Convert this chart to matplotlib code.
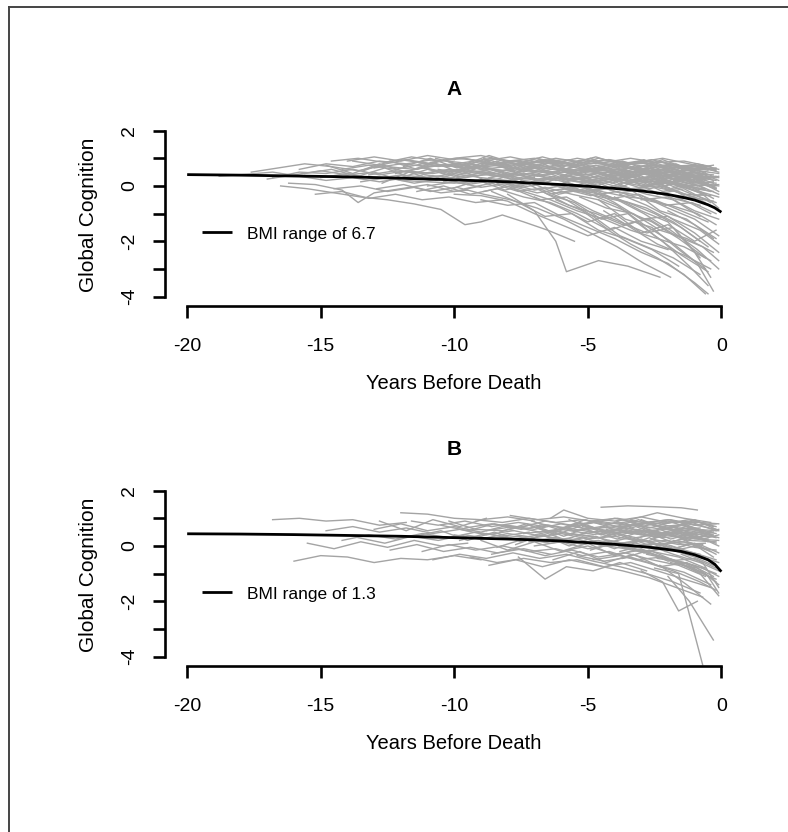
import matplotlib
matplotlib.use("Agg")
import matplotlib.pyplot as plt
from matplotlib.lines import Line2D

plt.rcParams["font.family"] = ["Liberation Sans", "DejaVu Sans"]

# ---- data ---------------------------------------------------------------
CURVE_X = [-20, -18, -16, -14, -12, -10, -8, -7, -6, -5, -4, -3, -2.5, -2,
           -1.5, -1, -0.5, -0.25, 0]
A_CURVE_Y = [0.41, 0.39, 0.36, 0.33, 0.28, 0.22, 0.15, 0.10, 0.05, -0.01,
             -0.09, -0.18, -0.24, -0.31, -0.40, -0.51, -0.68, -0.79, -0.95]
B_CURVE_Y = [0.44, 0.43, 0.41, 0.38, 0.35, 0.30, 0.25, 0.22, 0.18, 0.12,
             0.06, -0.02, -0.07, -0.13, -0.20, -0.32, -0.50, -0.66, -0.93]

A_LABEL = "BMI range of 6.7"
B_LABEL = "BMI range of 1.3"

# individual trajectories, (years before death, global cognition)
A_SUBJECTS = [
    [(-15.8, 0.6), (-14.8, 0.8), (-13.8, 0.7), (-12.8, 0.9), (-11.8, 0.8), (-10.8, 0.95), (-9.8, 0.85), (-8.8, 0.7), (-7.8, 0.8), (-6.8, 0.6)],
    [(-14.6, 0.9), (-13.6, 1.0), (-12.6, 0.85), (-11.6, 1.05), (-10.6, 0.9), (-9.6, 1.0), (-8.6, 0.8), (-7.6, 0.9), (-6.6, 0.7), (-5.6, 0.75), (-4.6, 0.5)],
    [(-13.2, 0.4), (-12.2, 0.55), (-11.2, 0.45), (-10.2, 0.6), (-9.2, 0.5), (-8.2, 0.35), (-7.2, 0.45), (-6.2, 0.2), (-5.2, 0.3), (-4.2, 0.05), (-3.2, -0.2)],
    [(-12.5, 0.7), (-11.5, 0.6), (-10.5, 0.75), (-9.5, 0.65), (-8.5, 0.8), (-7.5, 0.6), (-6.5, 0.7), (-5.5, 0.55), (-4.5, 0.6), (-3.5, 0.4), (-2.5, 0.45), (-1.5, 0.2), (-0.5, 0.1)],
    [(-11.8, 0.2), (-10.8, 0.35), (-9.8, 0.1), (-8.8, 0.25), (-7.8, 0.0), (-6.8, 0.15), (-5.8, -0.1), (-4.8, -0.25), (-3.8, -0.5), (-2.8, -0.8), (-1.8, -1.3), (-0.8, -2.0)],
    [(-10.9, 0.85), (-9.9, 1.0), (-8.9, 0.9), (-7.9, 1.05), (-6.9, 0.85), (-5.9, 0.95), (-4.9, 0.8), (-3.9, 0.9), (-2.9, 0.7), (-1.9, 0.75), (-0.9, 0.55)],
    [(-10.2, 0.5), (-9.2, 0.65), (-8.2, 0.4), (-7.2, 0.55), (-6.2, 0.45), (-5.2, 0.6), (-4.2, 0.35), (-3.2, 0.5), (-2.2, 0.3), (-1.2, 0.2), (-0.2, -0.1)],
    [(-9.6, -0.1), (-8.6, 0.1), (-7.6, -0.2), (-6.6, -0.05), (-5.6, -0.3), (-4.6, -0.5), (-3.6, -0.9), (-2.6, -1.3), (-1.6, -1.9), (-0.6, -2.6)],
    [(-9.1, 0.7), (-8.1, 0.85), (-7.1, 0.75), (-6.1, 0.9), (-5.1, 0.7), (-4.1, 0.8), (-3.1, 0.55), (-2.1, 0.6), (-1.1, 0.4), (-0.1, 0.3)],
    [(-8.7, 0.3), (-7.7, 0.45), (-6.7, 0.2), (-5.7, 0.35), (-4.7, 0.1), (-3.7, 0.25), (-2.7, 0.0), (-1.7, -0.2), (-0.7, -0.5)],
    [(-8.2, 0.95), (-7.2, 0.8), (-6.2, 1.0), (-5.2, 0.85), (-4.2, 0.95), (-3.2, 0.8), (-2.2, 0.85), (-1.2, 0.65), (-0.2, 0.6)],
    [(-7.8, 0.0), (-6.8, 0.2), (-5.8, -0.1), (-4.8, 0.05), (-3.8, -0.25), (-2.8, -0.1), (-1.8, -0.45), (-0.8, -0.7)],
    [(-7.4, 0.6), (-6.4, 0.5), (-5.4, 0.7), (-4.4, 0.55), (-3.4, 0.65), (-2.4, 0.45), (-1.4, 0.5), (-0.4, 0.25)],
    [(-6.9, 0.35), (-5.9, 0.5), (-4.9, 0.3), (-3.9, 0.45), (-2.9, 0.2), (-1.9, 0.3), (-0.9, 0.0)],
    [(-6.5, -0.3), (-5.5, -0.15), (-4.5, -0.4), (-3.5, -0.6), (-2.5, -1.0), (-1.5, -1.5), (-0.5, -2.2)],
    [(-6.1, 0.8), (-5.1, 0.95), (-4.1, 0.75), (-3.1, 0.9), (-2.1, 0.7), (-1.1, 0.75), (-0.1, 0.5)],
    [(-5.6, 0.2), (-4.6, 0.35), (-3.6, 0.1), (-2.6, 0.25), (-1.6, 0.0), (-0.6, -0.3)],
    [(-5.2, 0.55), (-4.2, 0.7), (-3.2, 0.5), (-2.2, 0.6), (-1.2, 0.35), (-0.2, 0.2)],
    [(-4.8, -0.2), (-3.8, 0.0), (-2.8, -0.3), (-1.8, -0.5), (-0.8, -1.1)],
    [(-4.3, 0.4), (-3.3, 0.6), (-2.3, 0.35), (-1.3, 0.45), (-0.3, 0.1)],
    [(-3.9, 0.75), (-2.9, 0.6), (-1.9, 0.8), (-0.9, 0.55), (-0.1, 0.45)],
    [(-3.4, 0.1), (-2.4, 0.3), (-1.4, 0.05), (-0.4, -0.2)],
    [(-2.9, 0.5), (-1.9, 0.35), (-0.9, 0.5), (-0.1, 0.2)],
    [(-2.4, -0.3), (-1.4, -0.1), (-0.4, -0.6)],
    [(-16.8, 0.3), (-15.8, 0.5), (-14.8, 0.45), (-13.8, 0.6), (-12.8, 0.4), (-11.8, 0.55), (-10.8, 0.45), (-9.8, 0.6), (-8.8, 0.5), (-7.8, 0.35)],
    [(-17.6, 0.5), (-16.6, 0.65), (-15.6, 0.8), (-14.6, 0.7), (-13.6, 0.55), (-12.6, 0.75)],
    [(-18.8, 0.35), (-17.8, 0.42), (-16.8, 0.5), (-15.8, 0.35), (-14.8, 0.2), (-13.8, 0.3), (-12.8, 0.15), (-11.8, 0.3)],
    [(-16.2, 0.1), (-15.2, 0.05), (-14.2, -0.15), (-13.6, -0.6), (-13.0, -0.25), (-12.0, -0.1), (-11.0, 0.05), (-10.0, -0.2), (-9.0, 0.0)],
    [(-16.5, 0.0), (-15.5, -0.1), (-14.5, -0.25), (-13.5, -0.4), (-12.5, -0.5), (-11.5, -0.65), (-10.5, -0.85), (-9.6, -1.4), (-9.0, -1.3), (-8.2, -1.05), (-7.4, -1.3), (-6.5, -1.6), (-5.5, -2.0)],
    [(-15.2, -0.3), (-14.2, -0.2), (-13.2, -0.45), (-12.2, -0.3), (-11.2, -0.5), (-10.2, -0.4), (-9.2, -0.6), (-8.2, -0.5)],
    [(-14.0, 0.9), (-13.0, 1.05), (-12.0, 0.9), (-11.0, 1.1), (-10.0, 0.95)],
    [(-13.5, 0.15), (-12.5, 0.3), (-11.5, 0.1), (-10.5, 0.25), (-9.5, 0.05), (-8.5, 0.2), (-7.5, -0.05), (-6.5, 0.1), (-5.5, -0.2), (-4.5, -0.1)],
    [(-12.0, 0.95), (-11.0, 0.8), (-10.0, 1.0), (-9.0, 1.1), (-8.0, 0.9), (-7.0, 1.0), (-6.0, 0.85)],
    [(-11.4, -0.2), (-10.4, 0.0), (-9.4, -0.3), (-8.4, -0.1), (-7.4, -0.4), (-6.4, -0.6), (-5.4, -1.0), (-4.4, -1.5), (-3.4, -2.1), (-2.4, -2.6), (-1.4, -3.2), (-0.6, -3.9)],
    [(-10.6, 0.6), (-9.6, 0.45), (-8.6, 0.6), (-7.6, 0.4), (-6.6, 0.55), (-5.6, 0.35), (-4.6, 0.45), (-3.6, 0.2), (-2.6, 0.3), (-1.6, 0.0), (-0.6, -0.1)],
    [(-9.9, 0.3), (-8.9, 0.5), (-7.9, 0.25), (-6.9, 0.4), (-5.9, 0.15), (-4.9, -0.1), (-3.9, -0.5), (-2.9, -1.0), (-1.9, -1.6), (-0.9, -2.3), (-0.1, -3.0)],
    [(-8.0, -0.3), (-7.0, -0.9), (-6.2, -2.0), (-5.8, -3.1), (-4.6, -2.7), (-3.5, -2.9), (-2.3, -3.3)],
    [(-8.4, 0.1), (-7.4, -0.2), (-6.4, -0.5), (-5.4, -0.9), (-4.4, -1.2), (-3.4, -1.6), (-2.4, -1.9), (-1.4, -2.2), (-0.4, -2.7)],
    [(-6.8, -0.1), (-5.8, -0.5), (-4.8, -1.1), (-3.8, -1.8), (-2.8, -2.2), (-1.8, -2.6), (-0.8, -3.2)],
    [(-5.9, 0.1), (-4.9, -0.3), (-3.9, -0.7), (-2.9, -1.4), (-1.9, -2.0), (-0.9, -2.8), (-0.3, -3.8)],
    [(-5.3, -0.4), (-4.3, -0.8), (-3.3, -1.0), (-2.3, -1.6), (-1.3, -1.9), (-0.3, -2.4)],
    [(-4.6, -0.5), (-3.6, -1.2), (-2.6, -1.5), (-1.6, -2.3), (-0.6, -3.0)],
    [(-3.8, -0.3), (-2.8, -0.7), (-1.8, -1.2), (-0.8, -1.6), (-0.1, -2.1)],
    [(-7.0, -0.4), (-6.0, -0.8), (-5.0, -1.3), (-4.0, -1.0), (-3.0, -1.7), (-2.0, -1.4), (-1.0, -2.0), (-0.2, -1.6)],
    [(-9.0, -0.5), (-8.0, -0.7), (-7.0, -0.6), (-6.0, -1.1), (-5.0, -1.5), (-4.0, -1.9), (-3.0, -2.4), (-2.0, -2.8), (-1.0, -3.5), (-0.5, -3.9)],
    [(-14.5, -0.1), (-13.5, 0.0), (-12.5, -0.2), (-11.5, -0.05), (-10.5, -0.25), (-9.5, -0.15)],
    [(-10.0, -0.3), (-9.0, -0.35), (-8.0, -0.55), (-7.0, -1.0), (-6.0, -1.4), (-5.0, -1.8), (-4.0, -1.5), (-3.0, -2.0), (-2.0, -2.3)],
    [(-2.0, -0.9), (-1.0, -1.4), (-0.2, -1.9)],
    [(-3.0, -0.5), (-2.0, -0.4), (-1.0, -0.9), (-0.1, -1.2)],
    [(-1.8, 0.2), (-0.8, 0.0), (-0.1, -0.3)],
    [(-12.2, 0.45), (-11.2, 0.65), (-10.2, 0.5), (-9.2, 0.75), (-8.2, 0.55), (-7.2, 0.7), (-6.2, 0.6), (-5.2, 0.4), (-4.2, 0.5), (-3.2, 0.3)],
    [(-11.0, 0.0), (-10.0, 0.15), (-9.0, -0.05), (-8.0, 0.1), (-7.0, -0.15), (-6.0, 0.0), (-5.0, -0.2), (-4.0, -0.05)],
    [(-9.4, 0.95), (-8.4, 0.75), (-7.4, 0.95), (-6.4, 0.8), (-5.4, 1.0), (-4.4, 0.85), (-3.4, 1.0), (-2.4, 0.85), (-1.4, 0.9), (-0.4, 0.7)],
    [(-8.0, 0.55), (-7.0, 0.35), (-6.0, 0.55), (-5.0, 0.4), (-4.0, 0.55), (-3.0, 0.3), (-2.0, 0.4), (-1.0, 0.1), (-0.3, 0.15)],
    [(-7.1, 0.15), (-6.1, 0.3), (-5.1, 0.1), (-4.1, 0.25), (-3.1, -0.05), (-2.1, 0.1), (-1.1, -0.3), (-0.2, -0.6)],
    [(-6.3, 0.65), (-5.3, 0.45), (-4.3, 0.65), (-3.3, 0.5), (-2.3, 0.7), (-1.3, 0.5), (-0.3, 0.4)],
    [(-5.0, 0.9), (-4.0, 0.7), (-3.0, 0.85), (-2.0, 0.65), (-1.0, 0.7), (-0.2, 0.55)],
    [(-4.0, 0.2), (-3.0, 0.0), (-2.0, 0.15), (-1.0, -0.15), (-0.1, -0.4)],
    [(-13.0, 0.65), (-12.0, 0.8), (-11.0, 0.7), (-10.0, 0.8), (-9.0, 0.6), (-8.0, 0.7), (-7.0, 0.5), (-6.0, 0.65), (-5.0, 0.5), (-4.0, 0.6), (-3.0, 0.45), (-2.0, 0.5), (-1.0, 0.3), (-0.2, 0.35)],
    [(-15.0, 0.3), (-14.0, 0.45), (-13.0, 0.25), (-12.0, 0.4), (-11.0, 0.3), (-10.0, 0.45), (-9.0, 0.3), (-8.0, 0.2), (-7.0, 0.3)],
    [(-11.6, 0.9), (-10.6, 0.7), (-9.6, 0.85), (-8.6, 1.0), (-7.6, 0.75), (-6.6, 0.9), (-5.6, 0.7), (-4.6, 0.85), (-3.6, 0.65), (-2.6, 0.75), (-1.6, 0.55), (-0.6, 0.6)],
    [(-10.4, 0.15), (-9.4, 0.35), (-8.4, 0.45), (-7.4, 0.2), (-6.4, 0.3), (-5.4, 0.15), (-4.4, 0.2), (-3.4, -0.1), (-2.4, 0.0), (-1.4, -0.3), (-0.4, -0.35)],
    [(-8.9, -0.2), (-7.9, 0.0), (-6.9, -0.25), (-5.9, -0.1), (-4.9, -0.35), (-3.9, -0.2), (-2.9, -0.5), (-1.9, -0.7), (-0.9, -1.0), (-0.2, -1.4)],
    [(-7.6, 0.75), (-6.6, 0.95), (-5.6, 0.75), (-4.6, 1.0), (-3.6, 0.8), (-2.6, 0.95), (-1.6, 0.7), (-0.6, 0.5)],
    [(-6.0, 0.4), (-5.0, 0.2), (-4.0, 0.4), (-3.0, 0.15), (-2.0, 0.2), (-1.0, -0.1), (-0.3, -0.2)],
    [(-4.5, 0.6), (-3.5, 0.3), (-2.5, 0.55), (-1.5, 0.3), (-0.5, 0.3)],
    [(-3.2, 0.85), (-2.2, 1.0), (-1.2, 0.8), (-0.3, 0.6)],
    [(-2.6, 0.6), (-1.6, 0.45), (-0.6, 0.2)],
    [(-14.2, 0.6), (-13.2, 0.75), (-12.2, 0.6), (-11.2, 0.8), (-10.2, 0.7), (-9.2, 0.85), (-8.2, 0.7), (-7.2, 0.85)],
    [(-12.9, -0.1), (-11.9, 0.05), (-10.9, -0.2), (-9.9, -0.05), (-8.9, -0.3), (-7.9, -0.5), (-6.9, -0.8), (-5.9, -1.2), (-4.9, -1.7), (-3.9, -2.2), (-2.9, -2.8), (-1.9, -3.3)],
    [(-6.7, -0.2), (-5.7, -0.7), (-4.7, -1.0), (-3.7, -1.4), (-2.7, -1.2), (-1.7, -1.8), (-0.7, -2.2), (-0.1, -2.7)],
    [(-5.5, 0.0), (-4.5, -0.2), (-3.5, -0.4), (-2.5, -0.5), (-1.5, -0.9), (-0.5, -1.3)],
    [(-4.0, -0.4), (-3.0, -0.9), (-2.0, -1.3), (-1.0, -2.4), (-0.4, -3.3)],
    [(-9.8, 0.8), (-8.8, 0.6), (-7.8, 0.55), (-6.8, 0.75), (-5.8, 0.55), (-4.8, 0.7), (-3.8, 0.45), (-2.8, 0.6), (-1.8, 0.35), (-0.8, 0.35)],
    [(-11.1, 0.4), (-10.1, 0.3), (-9.1, 0.45), (-8.1, 0.3), (-7.1, 0.45), (-6.1, 0.3), (-5.1, 0.2), (-4.1, 0.3), (-3.1, 0.1), (-2.1, 0.2), (-1.1, 0.0), (-0.1, 0.05)],
    [(-13.8, 0.9), (-12.8, 0.75), (-11.8, 0.95), (-10.8, 0.8), (-9.8, 0.7)],
    [(-17.0, 0.25), (-16.0, 0.4), (-15.0, 0.55), (-14.0, 0.4), (-13.0, 0.5), (-12.0, 0.2), (-11.0, 0.15), (-10.0, 0.1), (-9.0, 0.2)],
    [(-2.2, -0.2), (-1.2, -0.6), (-0.4, -1.0)],
    [(-1.5, 0.6), (-0.5, 0.4)],
    [(-3.6, 0.6), (-2.6, 0.1), (-1.6, -0.2), (-0.6, -0.6)],
    [(-13.4, 0.55), (-12.4, 0.9), (-11.4, 0.6), (-10.4, 0.95), (-9.4, 0.55), (-8.4, 0.9), (-7.4, 0.5), (-6.4, 0.85), (-5.4, 0.45), (-4.4, 0.7), (-3.4, 0.3), (-2.4, 0.55), (-1.4, 0.2), (-0.4, 0.3)],
    [(-12.7, 0.1), (-11.7, 0.5), (-10.7, 0.2), (-9.7, 0.55), (-8.7, 0.15), (-7.7, 0.45), (-6.7, 0.1), (-5.7, 0.4), (-4.7, 0.0), (-3.7, 0.3), (-2.7, -0.1), (-1.7, 0.1), (-0.7, -0.3)],
    [(-11.3, 0.75), (-10.3, 0.4), (-9.3, 0.8), (-8.3, 0.5), (-7.3, 0.85), (-6.3, 0.45), (-5.3, 0.8), (-4.3, 0.4), (-3.3, 0.7), (-2.3, 0.3), (-1.3, 0.6), (-0.3, 0.2)],
    [(-10.7, 1.0), (-9.7, 0.75), (-8.7, 1.1), (-7.7, 0.8), (-6.7, 1.05), (-5.7, 0.8), (-4.7, 1.05), (-3.7, 0.75), (-2.7, 0.9), (-1.7, 0.6), (-0.7, 0.75)],
    [(-9.3, 0.1), (-8.3, 0.4), (-7.3, 0.05), (-6.3, 0.35), (-5.3, -0.05), (-4.3, 0.3), (-3.3, -0.15), (-2.3, 0.1), (-1.3, -0.4), (-0.3, -0.55)],
    [(-8.5, 0.6), (-7.5, 0.25), (-6.5, 0.55), (-5.5, 0.2), (-4.5, 0.5), (-3.5, 0.15), (-2.5, 0.4), (-1.5, 0.0), (-0.5, 0.05)],
    [(-7.7, 0.9), (-6.7, 0.6), (-5.7, 0.95), (-4.7, 0.65), (-3.7, 0.9), (-2.7, 0.55), (-1.7, 0.8), (-0.7, 0.4)],
    [(-6.6, 0.1), (-5.6, 0.5), (-4.6, 0.15), (-3.6, 0.45), (-2.6, 0.05), (-1.6, 0.3), (-0.6, -0.1)],
    [(-5.8, 0.75), (-4.8, 0.5), (-3.8, 0.8), (-2.8, 0.4), (-1.8, 0.65), (-0.8, 0.2), (-0.1, 0.35)],
    [(-4.9, 0.3), (-3.9, 0.6), (-2.9, 0.25), (-1.9, 0.55), (-0.9, 0.15), (-0.2, 0.1)],
    [(-4.2, 0.95), (-3.2, 0.65), (-2.2, 0.95), (-1.2, 0.6), (-0.2, 0.65)],
    [(-3.5, 0.45), (-2.5, 0.75), (-1.5, 0.4), (-0.5, 0.55)],
    [(-2.8, 0.0), (-1.8, 0.4), (-0.8, 0.1), (-0.1, 0.0)],
    [(-2.3, 0.9), (-1.3, 0.6), (-0.3, 0.75)],
    [(-1.7, -0.5), (-0.7, -0.3), (-0.1, -0.8)],
    [(-14.8, 0.75), (-13.8, 0.45), (-12.8, 0.8), (-11.8, 0.5), (-10.8, 0.85), (-9.8, 0.5), (-8.8, 0.9), (-7.8, 0.6), (-6.8, 0.95), (-5.8, 0.6), (-4.8, 0.9)],
    [(-15.6, 0.45), (-14.6, 0.6), (-13.6, 0.35), (-12.6, 0.65), (-11.6, 0.3), (-10.6, 0.55), (-9.6, 0.3), (-8.6, 0.45)],
    [(-12.0, 0.3), (-11.0, 0.6), (-10.0, 0.35), (-9.0, 0.7), (-8.0, 0.4), (-7.0, 0.65), (-6.0, 0.3), (-5.0, 0.6), (-4.0, 0.25), (-3.0, 0.5), (-2.0, 0.1), (-1.0, 0.35), (-0.2, -0.1)],
    [(-10.1, -0.1), (-9.1, 0.2), (-8.1, -0.15), (-7.1, 0.1), (-6.1, -0.3), (-5.1, -0.1), (-4.1, -0.45), (-3.1, -0.3), (-2.1, -0.7), (-1.1, -0.6), (-0.2, -1.0)],
    [(-8.9, 1.0), (-7.9, 0.7), (-6.9, 1.0), (-5.9, 0.7), (-4.9, 1.0), (-3.9, 0.65), (-2.9, 0.95), (-1.9, 0.55), (-0.9, 0.8), (-0.1, 0.6)],
    [(-7.2, 0.3), (-6.2, 0.0), (-5.2, 0.35), (-4.2, -0.05), (-3.2, 0.25), (-2.2, -0.2), (-1.2, 0.0), (-0.3, -0.45)],
    [(-6.0, -0.15), (-5.0, 0.15), (-4.0, -0.2), (-3.0, -0.35), (-2.0, -0.8), (-1.0, -1.2), (-0.1, -1.8)],
    [(-5.1, 0.45), (-4.1, 0.1), (-3.1, 0.4), (-2.1, 0.0), (-1.1, 0.3), (-0.2, -0.05)],
    [(-3.9, -0.1), (-2.9, 0.3), (-1.9, -0.1), (-0.9, 0.2), (-0.1, -0.2)],
    [(-3.1, 0.65), (-2.1, 0.35), (-1.1, 0.65), (-0.2, 0.3)],
    [(-9.7, 0.55), (-8.7, 0.85), (-7.7, 0.5), (-6.7, 0.8), (-5.7, 0.45), (-4.7, 0.75), (-3.7, 0.35), (-2.7, 0.7), (-1.7, 0.2), (-0.7, 0.45)],
    [(-11.9, 0.7), (-10.9, 1.0), (-9.9, 0.65), (-8.9, 0.95), (-7.9, 0.6), (-6.9, 0.9)],
    [(-7.5, 0.2), (-6.5, -0.3), (-5.5, -0.6), (-4.5, -1.2), (-3.5, -1.0), (-2.5, -1.8), (-1.5, -2.5), (-0.5, -3.1)],
    [(-6.2, -0.5), (-5.2, -0.9), (-4.2, -1.6), (-3.2, -1.3), (-2.2, -2.0), (-1.2, -2.9), (-0.5, -3.6)],
    [(-8.6, -0.2), (-7.6, -0.6), (-6.6, -1.1), (-5.6, -1.0), (-4.6, -1.6), (-3.6, -1.9), (-2.6, -2.3), (-1.6, -2.9)],
    [(-5.0, -0.1), (-4.0, -0.6), (-3.0, -1.2), (-2.0, -1.1), (-1.0, -1.7), (-0.1, -2.4)],
    [(-3.3, -0.2), (-2.3, -0.9), (-1.3, -1.2), (-0.3, -1.9)],
    [(-7.8, -0.1), (-6.8, -0.5), (-5.8, -0.4), (-4.8, -0.9), (-3.8, -1.3), (-2.8, -1.7), (-1.8, -1.5), (-0.8, -2.6)],
    [(-4.4, -0.9), (-3.4, -1.5), (-2.4, -2.1), (-1.4, -2.5), (-0.4, -3.0)],
]

B_SUBJECTS = [
    [(-16.8, 0.95), (-15.8, 1.0), (-14.8, 0.9), (-13.8, 0.95), (-12.8, 0.75), (-11.8, 0.85)],
    [(-16.0, -0.55), (-15.0, -0.35), (-14.0, -0.4), (-13.0, -0.6), (-12.0, -0.45), (-11.0, -0.5), (-10.0, -0.35), (-9.0, -0.5)],
    [(-15.5, 0.1), (-14.5, -0.1), (-13.5, 0.15), (-12.5, -0.05), (-11.5, 0.2), (-10.5, 0.0), (-9.5, 0.1)],
    [(-14.8, 0.55), (-13.8, 0.7), (-12.8, 0.5), (-11.8, 0.65), (-10.8, 0.45), (-9.8, 0.6), (-8.8, 0.4), (-7.8, 0.55)],
    [(-13.6, 0.3), (-12.6, 0.1), (-11.6, 0.35), (-10.6, 0.2), (-9.6, 0.4), (-8.6, 0.25), (-7.6, 0.35), (-6.6, 0.15), (-5.6, 0.3)],
    [(-12.0, 1.2), (-11.0, 1.15), (-10.0, 1.0), (-9.0, 0.95), (-8.0, 1.05), (-7.0, 0.9)],
    [(-11.2, -0.2), (-10.2, 0.05), (-9.2, -0.15), (-8.2, 0.0), (-7.2, -0.2), (-6.2, -0.1), (-5.2, -0.35), (-4.2, -0.2), (-3.2, -0.5), (-2.2, -0.4), (-1.2, -0.8), (-0.2, -1.2)],
    [(-10.5, 0.75), (-9.5, 0.55), (-8.5, 0.8), (-7.5, 0.6), (-6.5, 0.75), (-5.5, 0.55), (-4.5, 0.7), (-3.5, 0.5), (-2.5, 0.55), (-1.5, 0.3), (-0.5, 0.25)],
    [(-9.8, 0.2), (-8.8, 0.45), (-7.8, 0.25), (-6.8, 0.4), (-5.8, 0.2), (-4.8, 0.35), (-3.8, 0.1), (-2.8, 0.2), (-1.8, -0.1), (-0.8, -0.3)],
    [(-9.2, 0.95), (-8.2, 0.85), (-7.2, 1.0), (-6.2, 0.85), (-5.2, 0.95), (-4.2, 0.8), (-3.2, 0.9), (-2.2, 0.7), (-1.2, 0.8), (-0.2, 0.6)],
    [(-8.6, -0.3), (-7.6, -0.1), (-6.6, -0.35), (-5.6, -0.15), (-4.6, -0.4), (-3.6, -0.25), (-2.6, -0.5), (-1.6, -0.7), (-0.6, -1.1)],
    [(-8.0, 0.6), (-7.0, 0.4), (-6.0, 0.6), (-5.0, 0.45), (-4.0, 0.6), (-3.0, 0.4), (-2.0, 0.5), (-1.0, 0.25), (-0.1, 0.2)],
    [(-7.6, -0.4), (-6.6, -1.2), (-5.8, -0.75), (-4.8, -0.9), (-3.8, -0.6), (-2.8, -0.9)],
    [(-7.2, 0.15), (-6.2, 0.3), (-5.2, 0.05), (-4.2, 0.2), (-3.2, 0.0), (-2.2, 0.1), (-1.2, -0.2), (-0.2, -0.5)],
    [(-6.8, 0.8), (-5.8, 0.65), (-4.8, 0.85), (-3.8, 0.7), (-2.8, 0.8), (-1.8, 0.6), (-0.8, 0.65)],
    [(-6.4, 1.0), (-5.9, 1.3), (-5.0, 1.0), (-4.0, 0.9), (-3.0, 1.05), (-2.0, 0.85), (-1.0, 0.9), (-0.2, 0.7)],
    [(-4.5, 1.4), (-3.5, 1.45), (-2.5, 1.42), (-1.5, 1.38), (-0.9, 1.3)],
    [(-6.0, -0.2), (-5.0, 0.0), (-4.0, -0.3), (-3.0, -0.15), (-2.0, -0.45), (-1.0, -0.7), (-0.2, -1.0)],
    [(-5.6, 0.45), (-4.6, 0.3), (-3.6, 0.5), (-2.6, 0.35), (-1.6, 0.45), (-0.6, 0.2)],
    [(-5.2, 0.7), (-4.2, 0.55), (-3.2, 0.75), (-2.2, 0.6), (-1.2, 0.55), (-0.3, 0.4)],
    [(-4.8, -0.5), (-3.8, -0.35), (-2.8, -0.6), (-1.8, -0.9), (-0.8, -1.3), (-0.2, -1.6)],
    [(-4.4, 0.1), (-3.4, 0.3), (-2.4, 0.05), (-1.4, 0.15), (-0.4, -0.2)],
    [(-4.0, 0.85), (-3.0, 0.7), (-2.0, 0.9), (-1.0, 0.6), (-0.1, 0.55)],
    [(-3.6, -0.1), (-2.6, 0.1), (-1.6, -0.15), (-0.6, -0.4)],
    [(-3.2, 0.45), (-2.2, 0.3), (-1.2, 0.4), (-0.2, 0.1)],
    [(-2.8, -0.3), (-1.8, -0.5), (-0.8, -1.0), (-0.1, -1.8)],
    [(-2.5, -0.8), (-1.6, -1.0), (-0.7, -4.3)],
    [(-3.0, -0.9), (-2.2, -1.3), (-1.6, -2.35), (-0.9, -2.0)],
    [(-2.0, -1.1), (-1.2, -2.0), (-0.3, -3.4)],
    [(-2.4, 0.6), (-1.4, 0.75), (-0.4, 0.5)],
    [(-1.8, 0.2), (-0.8, 0.05), (-0.1, -0.25)],
    [(-13.0, 0.6), (-12.0, 0.8), (-11.0, 0.55), (-10.0, 0.7), (-9.0, 0.5), (-8.0, 0.75), (-7.0, 0.6), (-6.0, 0.8), (-5.0, 0.6), (-4.0, 0.7), (-3.0, 0.55), (-2.0, 0.6), (-1.0, 0.4)],
    [(-12.4, -0.15), (-11.4, 0.05), (-10.4, -0.2), (-9.4, -0.05), (-8.4, -0.25), (-7.4, -0.1), (-6.4, -0.3)],
    [(-11.6, 0.9), (-10.6, 0.75), (-9.6, 0.9), (-8.6, 0.7), (-7.6, 0.85), (-6.6, 0.7)],
    [(-10.0, 0.4), (-9.0, 0.25), (-8.0, 0.45), (-7.0, 0.3), (-6.0, 0.45), (-5.0, 0.25), (-4.0, 0.35), (-3.0, 0.15), (-2.0, 0.2), (-1.0, -0.05), (-0.2, -0.15)],
    [(-9.4, -0.4), (-8.4, -0.6), (-7.4, -0.45), (-6.4, -0.6), (-5.4, -0.5), (-4.4, -0.75), (-3.4, -0.6), (-2.4, -0.9), (-1.4, -1.2), (-0.4, -1.5)],
    [(-8.8, 0.55), (-7.8, 0.7), (-6.8, 0.5), (-5.8, 0.65), (-4.8, 0.5), (-3.8, 0.6), (-2.8, 0.4), (-1.8, 0.5), (-0.8, 0.3)],
    [(-7.9, 1.1), (-6.9, 0.95), (-5.9, 1.05), (-4.9, 0.9), (-3.9, 1.0), (-2.9, 0.85), (-1.9, 0.95), (-0.9, 0.75)],
    [(-7.0, 0.0), (-6.0, 0.15), (-5.0, -0.1), (-4.0, 0.05), (-3.0, -0.2), (-2.0, -0.1), (-1.0, -0.4), (-0.3, -0.7)],
    [(-6.2, 0.55), (-5.2, 0.35), (-4.2, 0.5), (-3.2, 0.3), (-2.2, 0.45), (-1.2, 0.2), (-0.2, 0.15)],
    [(-5.4, -0.35), (-4.4, -0.55), (-3.4, -0.4), (-2.4, -0.7), (-1.4, -0.95), (-0.4, -1.4)],
    [(-4.2, 0.4), (-3.2, 0.6), (-2.2, 0.4), (-1.2, 0.5), (-0.2, 0.3)],
    [(-3.4, 0.95), (-2.4, 1.2), (-1.4, 1.0), (-0.4, 0.85)],
    [(-2.6, 0.25), (-1.6, 0.05), (-0.6, 0.1)],
    [(-1.9, -0.6), (-0.9, -0.8), (-0.2, -1.3)],
    [(-14.2, 0.2), (-13.2, 0.4), (-12.2, 0.25), (-11.2, 0.45), (-10.2, 0.3), (-9.2, 0.5), (-8.2, 0.35), (-7.2, 0.5)],
    [(-10.8, -0.5), (-9.8, -0.3), (-8.8, -0.45), (-7.8, -0.25), (-6.8, -0.45), (-5.8, -0.3), (-4.8, -0.55), (-3.8, -0.75), (-2.8, -1.0), (-1.8, -1.3), (-0.8, -1.7)],
    [(-8.4, -0.05), (-7.4, 0.25), (-6.4, 0.1), (-5.4, 0.25), (-4.4, 0.0), (-3.4, 0.15), (-2.4, -0.1), (-1.4, -0.2), (-0.4, -0.55)],
    [(-6.6, 0.35), (-5.6, 0.1), (-4.6, 0.2), (-3.6, -0.05), (-2.6, -0.2), (-1.6, -0.4), (-0.6, -0.8)],
    [(-5.0, 0.8), (-4.0, 1.0), (-3.0, 0.8), (-2.0, 0.95), (-1.0, 0.75), (-0.2, 0.8)],
    [(-3.8, -0.2), (-2.8, 0.05), (-1.8, -0.3), (-0.8, -0.6), (-0.1, -0.9)],
    [(-2.2, 0.8), (-1.2, 0.95), (-0.3, 0.7)],
    [(-1.5, -0.3), (-0.7, -0.6), (-0.1, -1.5)],
    [(-9.6, 0.65), (-8.6, 0.8), (-7.6, 0.65), (-6.6, 0.9), (-5.6, 0.75), (-4.6, 0.9), (-3.6, 0.75), (-2.6, 0.85), (-1.6, 0.65), (-0.6, 0.55)],
    [(-7.4, 0.45), (-6.4, 0.55), (-5.4, 0.4), (-4.4, 0.55), (-3.4, 0.45), (-2.4, 0.5), (-1.4, 0.3), (-0.4, 0.35)],
    [(-4.6, 0.05), (-3.6, -0.1), (-2.6, -0.3), (-1.6, -0.6), (-0.6, -1.0), (-0.1, -1.4)],
    [(-2.8, 0.8), (-1.8, 0.85), (-0.8, 0.85), (-0.1, 0.8)],
    [(-2.3, -0.7), (-1.3, -1.4), (-0.4, -2.1)],
    [(-8.3, 0.5), (-7.3, 0.8), (-6.3, 0.45), (-5.3, 0.85), (-4.3, 0.5), (-3.3, 0.8), (-2.3, 0.45), (-1.3, 0.7), (-0.3, 0.35)],
    [(-7.7, 0.05), (-6.7, 0.4), (-5.7, 0.0), (-4.7, 0.35), (-3.7, -0.05), (-2.7, 0.3), (-1.7, -0.15), (-0.7, 0.05)],
    [(-6.9, 0.7), (-5.9, 0.35), (-4.9, 0.7), (-3.9, 0.35), (-2.9, 0.65), (-1.9, 0.25), (-0.9, 0.5), (-0.1, 0.3)],
    [(-6.3, -0.5), (-5.3, -0.2), (-4.3, -0.6), (-3.3, -0.3), (-2.3, -0.75), (-1.3, -0.6), (-0.3, -1.1)],
    [(-5.7, 0.95), (-4.7, 0.6), (-3.7, 0.95), (-2.7, 0.65), (-1.7, 0.9), (-0.7, 0.55)],
    [(-5.0, 0.25), (-4.0, -0.1), (-3.0, 0.25), (-2.0, -0.15), (-1.0, 0.1), (-0.2, -0.3)],
    [(-4.3, 0.6), (-3.3, 0.2), (-2.3, 0.6), (-1.3, 0.2), (-0.3, 0.5)],
    [(-3.7, -0.45), (-2.7, -0.15), (-1.7, -0.55), (-0.7, -0.8), (-0.1, -1.1)],
    [(-3.0, 0.95), (-2.0, 0.6), (-1.0, 0.95), (-0.2, 0.6)],
    [(-2.7, 0.2), (-1.7, 0.55), (-0.7, 0.25), (-0.1, 0.4)],
    [(-2.1, -0.2), (-1.1, 0.1), (-0.3, -0.4)],
    [(-1.4, 0.45), (-0.5, 0.15)],
    [(-9.0, 0.2), (-8.0, -0.15), (-7.0, 0.15), (-6.0, -0.2), (-5.0, 0.1), (-4.0, -0.35), (-3.0, -0.1), (-2.0, -0.55), (-1.0, -0.45), (-0.2, -0.8)],
    [(-10.2, 0.9), (-9.2, 0.6), (-8.2, 0.55), (-7.2, 0.75), (-6.2, 0.4), (-5.2, 0.75), (-4.2, 0.4), (-3.2, 0.7), (-2.2, 0.35), (-1.2, 0.6), (-0.2, 0.45)],
    [(-11.5, 0.35), (-10.5, 0.55), (-9.5, 0.2), (-8.5, 0.5), (-7.5, 0.15), (-6.5, 0.45), (-5.5, 0.1)],
    [(-12.8, 0.9), (-11.8, 0.55), (-10.8, 0.95), (-9.8, 0.7), (-8.8, 1.0)],
    [(-5.9, 0.2), (-4.9, 0.55), (-3.9, 0.25), (-2.9, 0.55), (-1.9, 0.15), (-0.9, 0.35), (-0.1, 0.0)],
    [(-4.9, -0.15), (-3.9, 0.15), (-2.9, -0.25), (-1.9, 0.0), (-0.9, -0.35), (-0.1, -0.6)],
    [(-7.1, 0.9), (-6.1, 0.6), (-5.1, 0.95), (-4.1, 0.65), (-3.1, 0.95), (-2.1, 0.6), (-1.1, 0.85), (-0.2, 0.55)],
    [(-3.5, 0.3), (-2.5, -0.05), (-1.5, 0.25), (-0.5, -0.15)],
    [(-2.4, -0.45), (-1.4, -0.6), (-0.5, -1.1), (-0.1, -1.7)],
    [(-1.9, 0.7), (-0.9, 0.4), (-0.1, 0.6)],
    [(-8.7, -0.7), (-7.7, -0.5), (-6.7, -0.75), (-5.7, -0.5), (-4.7, -0.7), (-3.7, -0.9), (-2.7, -1.15), (-1.7, -1.5), (-0.7, -1.85)],
    [(-6.5, 0.5), (-5.5, 0.75), (-4.5, 0.4), (-3.5, 0.7), (-2.5, 0.3), (-1.5, 0.6), (-0.5, 0.2)],
]

X_TICKS = [-20, -15, -10, -5, 0]
Y_TICKS = [-4, -3, -2, -1, 0, 1, 2]
Y_TICK_LABELS = ["-4", "", "-2", "", "0", "", "2"]

GREY = "#a4a4a4"
W, H = 788, 832


def draw_panel(ax, subjects, curve_y, label, title):
    for subj in subjects:
        xs = [p[0] for p in subj]
        ys = [p[1] for p in subj]
        ax.plot(xs, ys, color=GREY, linewidth=1.0, zorder=1)
    ax.plot(CURVE_X, curve_y, color="black", linewidth=2.0, zorder=3,
            label=label, solid_capstyle="butt")

    ax.set_xlim(-20.83, 0.81)
    ax.set_ylim(-4.33, 2.24)
    ax.spines[["top", "right"]].set_visible(False)
    for side in ("left", "bottom"):
        ax.spines[side].set_linewidth(1.9)
    ax.spines["left"].set_bounds(-4, 2)
    ax.spines["bottom"].set_bounds(-20, 0)

    ax.set_xticks(X_TICKS)
    ax.set_xticklabels([str(v) for v in X_TICKS])
    ax.set_yticks(Y_TICKS)
    ax.set_yticklabels(Y_TICK_LABELS)
    ax.tick_params(axis="both", length=8.6, width=1.9, labelsize=14)
    ax.tick_params(axis="x", pad=15)
    ax.tick_params(axis="y", pad=11, labelrotation=90)
    for t in ax.get_yticklabels():
        t.set_va("center")

    ax.set_xlabel("Years Before Death", fontsize=14.5)
    ax.xaxis.set_label_coords(0.5, -0.43)
    ax.xaxis.label.set_va("center")
    ax.set_ylabel("Global Cognition", fontsize=15)
    ax.yaxis.set_label_coords(-0.133, 0.5)
    ax.yaxis.label.set_va("center")

    ax.set_title(title, fontsize=15, fontweight="bold", pad=21)

    ax.legend(loc="center left", bbox_to_anchor=(0.064, 0.395),
              frameon=False, fontsize=12.5, handlelength=1.75,
              handletextpad=0.85, borderpad=0, borderaxespad=0)


fig = plt.figure(figsize=(W / 100, H / 100), dpi=100)
ax_a = fig.add_axes([165 / W, 1 - 305.7 / H, 578 / W, 181.7 / H])
ax_b = fig.add_axes([165 / W, 1 - 665.7 / H, 578 / W, 181.7 / H])

draw_panel(ax_a, A_SUBJECTS, A_CURVE_Y, A_LABEL, "A")
draw_panel(ax_b, B_SUBJECTS, B_CURVE_Y, B_LABEL, "B")

# partial outer frame (left and top edges only)
fig.add_artist(Line2D([9.3 / W, 9.3 / W], [1 - 7.3 / H, 0], color="#444444",
                      linewidth=1.4, transform=fig.transFigure))
fig.add_artist(Line2D([9.3 / W, 1], [1 - 7.3 / H, 1 - 7.3 / H], color="#444444",
                      linewidth=1.4, transform=fig.transFigure))

fig.savefig("out.png", dpi=100)
